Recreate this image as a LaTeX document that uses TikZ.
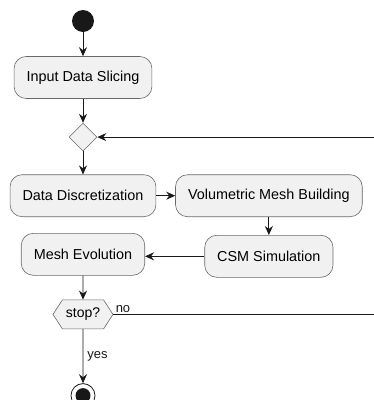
\documentclass[tikz,border=0pt]{standalone}
\usepackage{fontspec}
\setmainfont{Liberation Sans}
\usetikzlibrary{arrows.meta,positioning,shapes.geometric,shapes.symbols}
\definecolor{ActFill}{HTML}{F1F1F1}
\definecolor{ActLine}{HTML}{181818}

\begin{document}
\begin{tikzpicture}[x=1pt, y=1pt,
	node distance=24pt and 19pt,
	act/.style={draw=ActLine!65, line width=0.6pt, rounded corners=12pt, fill=ActFill,
		minimum height=42pt, inner xsep=12.5pt, font=\fontsize{14.4}{16}\selectfont},
	merge/.style={diamond, draw=ActLine!65, line width=0.6pt, fill=ActFill, minimum size=28pt, inner sep=0pt},
	test/.style={signal, signal to=west and east, signal pointer angle=114, draw=ActLine!65, line width=0.6pt,
		fill=ActFill, minimum width=60pt, minimum height=29pt, inner sep=2pt, font=\fontsize{14}{16}\selectfont},
	startdot/.style={circle, fill=ActLine, minimum size=22pt, inner sep=0pt},
	enddot/.style={circle, draw=ActLine, line width=0.8pt, fill=white, minimum size=24pt, inner sep=0pt,
		path picture={\fill[ActLine] (path picture bounding box.center) circle (7.5pt);}},
	arrow/.style={-{Stealth[length=9pt, width=8pt, inset=3pt]}, ActLine, line width=0.8pt},
	lbl/.style={font=\fontsize{13}{15}\selectfont, inner sep=1pt}
]
\useasboundingbox (0,0) rectangle (374,-400);

\node[startdot] (start) at (83,-21) {};
\node[act, below=24pt of start] (slice) {Input Data Slicing};
\node[merge, below=24pt of slice] (loop) {};
\node[act, below=23pt of loop] (discr) {Data Discretization};
\node[act, right=19pt of discr] (volmesh) {Volumetric Mesh Building};
\node[act, below=18pt of volmesh] (csm) {CSM Simulation};
\node[act, below=16pt of discr] (evol) {Mesh Evolution};
\node[test, below=24pt of evol] (stop) {stop?};
\node[enddot, below=54pt of stop] (finish) {};
\coordinate (back) at (380,0);

\draw[arrow] (start) -- (slice);
\draw[arrow] (slice) -- (loop);
\draw[arrow] (loop) -- (discr);
\draw[arrow] (discr) -- (volmesh);
\draw[arrow] (volmesh.south -| csm.north) -- (csm.north);
\draw[arrow] (csm.west) -- (csm.west -| evol.east);
\draw[arrow] (evol) -- (stop);
\draw[arrow] (stop) -- node[lbl, right=3pt] {yes} (finish);
% way back round to the merge point
\draw[arrow] (stop.east) -- node[lbl, pos=0, above right=0pt and 1pt] {no} (stop.east -| back) |- (loop.east);
\end{tikzpicture}
\end{document}
